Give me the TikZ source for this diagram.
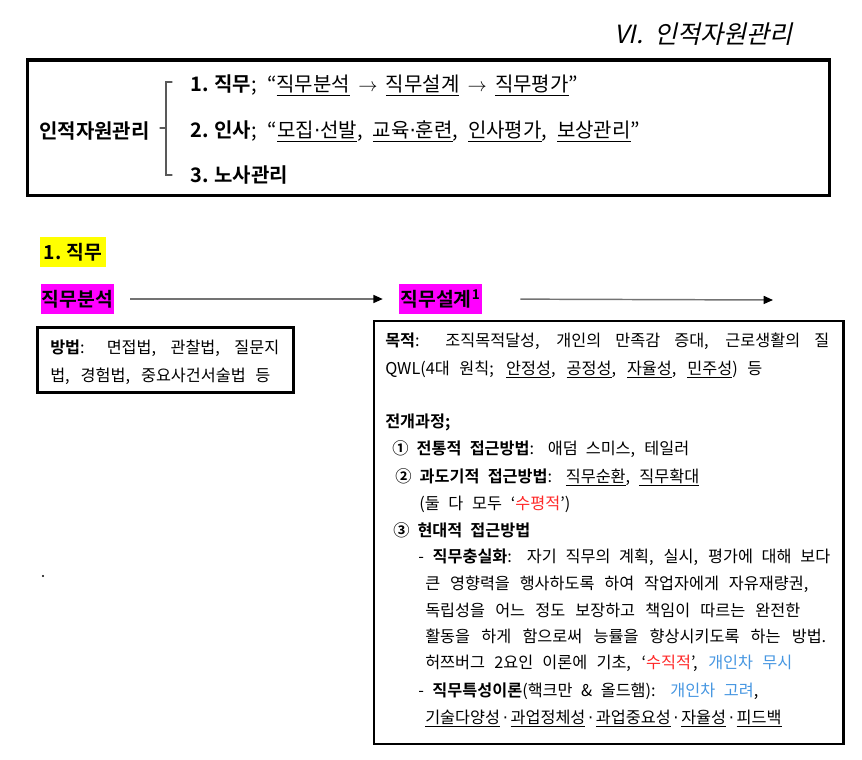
\documentclass[tikz,border=0pt]{standalone}
\usepackage{fontspec}
\setmainfont{Noto Sans CJK KR}[BoldFont={Noto Sans CJK KR Bold}]
\newfontfamily\titlefont[FakeSlant=0.22]{Noto Sans CJK KR}
\newfontfamily\dvfont{DejaVu Sans}
\usetikzlibrary{arrows.meta}
\definecolor{mag}{RGB}{255,0,255}
\definecolor{hly}{RGB}{255,255,0}
\definecolor{redt}{RGB}{255,40,40}
\definecolor{blut}{RGB}{70,150,225}
\newdimen\pxu \pxu=0.75pt
\newcommand\jl[2]{\setbox0\hbox{#2}\ifdim\wd0<#1\pxu \makebox[#1\pxu][s]{#2}\else\box0\fi}
\newcommand\uln[1]{\underline{#1}}
\newcommand\mdot{{\dvfont ·}}
\newcommand\wdot{\kern2pt{\dvfont ·}\kern2pt}
\tikzset{
  body/.style={anchor=base west, inner sep=0pt, font=\fontsize{12.2}{14}\selectfont},
  head/.style={anchor=base west, inner sep=0pt, font=\fontsize{15}{17}\selectfont},
  frame/.style={draw, inner sep=0pt},
  hl/.style={inner sep=0pt, font=\fontsize{14.5}{16}\selectfont\bfseries, minimum height=22.5pt},
  flow/.style={draw=black!55, line width=1.1pt, -{Triangle[length=7pt,width=6pt,color=black]}},
  brk/.style={black!65, line width=0.9pt, line cap=round},
}
\begin{document}
\begin{tikzpicture}[x=0.75pt,y=-0.75pt]
\useasboundingbox (0,0) rectangle (862,759);
% title
\node[anchor=base west, inner sep=0pt, font=\fontsize{18.8}{20}\titlefont] (title) at (614,44) {VI.~ 인적자원관리};
% top box
\node[frame, line width=2.6pt, minimum width=601.5pt, minimum height=101.6pt] (topbox) at (428.5,127.75) {};
\node[head, font=\fontsize{15}{17}\selectfont\bfseries] (hrm) at (39,139) {인적자원관리};
\draw[brk] (172,82) -- (166,82) -- (166,175) -- (172,175);
\draw[brk] (166,128) -- (160,128);
\node[head] (it1) at (190,92) {\jl{388}{\textbf{1.\hspace{0.3em}직무}; “\uln{직무분석} $\to$ \uln{직무설계} $\to$ \uln{직무평가}”}};
\node[head] (it2) at (190,138) {\jl{450}{\textbf{2.\hspace{0.3em}인사}; “\uln{모집\mdot 선발}, \uln{교육\mdot 훈련}, \uln{인사평가}, \uln{보상관리}”}};
\node[head] (it3) at (190,183) {\textbf{3.\hspace{0.3em}노사관리}};
% section
\node[hl, fill=hly, minimum width=49.5pt] (sec) at (73,252) {1.\hspace{0.25em}직무};
\node[hl, fill=mag, minimum width=54.75pt] (ana) at (77.5,299) {직무분석};
\node[hl, fill=mag, minimum width=62.25pt] (dsgn) at (440.5,299) {직무설계\textsuperscript{1}};
\coordinate (nxt) at (773,300);
\draw[flow, shorten <=12pt, shorten >=12pt] (ana.east) -- (dsgn.west);
\draw[flow, shorten <=28.5pt] (dsgn.east) -- (nxt);
% left box
\node[frame, line width=2pt, minimum width=192pt, minimum height=48.75pt] (lbox) at (165.5,360) {};
\node[body] (l1) at (50,353) {\jl{229}{\textbf{방법}: 면접법, 관찰법, 질문지}};
\node[body] (l2) at (50,381) {\jl{220}{법, 경험법, 중요사건서술법 등}};
% right box
\node[frame, line width=2pt, minimum width=352.1pt, minimum height=317.25pt] (rbox) at (608.75,532.5) {};
\node[body] (r1) at (385,346) {\jl{444}{\textbf{목적}: 조직목적달성, 개인의 만족감 증대, 근로생활의 질}};
\node[body] (r2) at (385,374) {\jl{377}{QWL(4대 원칙; \uln{안정성}, \uln{공정성}, \uln{자율성}, \uln{민주성}) 등}};
\node[body] (r3) at (385,427) {\textbf{전개과정;}};
\node[body] (r4) at (392,454) {\jl{297}{\textbf{① 전통적 접근방법}: 애덤 스미스, 테일러}};
\node[body] (r5) at (395,482) {\jl{304}{\textbf{② 과도기적 접근방법}: \uln{직무순환}, \uln{직무확대}}};
\node[body] (r6) at (419,509) {\jl{151}{(둘 다 모두 ‘\textcolor{redt}{수평적}’)}};
\node[body] (r7) at (393,536) {\jl{137}{\textbf{③ 현대적 접근방법}}};
\node[body] (r8) at (418,562) {\jl{412}{- \textbf{직무충실화}: 자기 직무의 계획, 실시, 평가에 대해 보다}};
\node[body] (r9) at (425,589) {\jl{383}{큰 영향력을 행사하도록 하여 작업자에게 자유재량권,}};
\node[body] (r10) at (425,616) {\jl{375}{독립성을 어느 정도 보장하고 책임이 따르는 완전한}};
\node[body] (r11) at (425,642) {\jl{401}{활동을 하게 함으로써 능률을 향상시키도록 하는 방법.}};
\node[body] (r12) at (425,668) {\jl{367}{허쯔버그 2요인 이론에 기초, ‘\textcolor{redt}{수직적}’, \textcolor{blut}{개인차 무시}}};
\node[body] (r13) at (418,696) {\jl{340}{- \textbf{직무특성이론}(핵크만 \& 올드햄): \textcolor{blut}{개인차 고려},}};
\node[body] (r14) at (425,723) {\uln{기술다양성}\wdot\uln{과업정체성}\wdot\uln{과업중요성}\wdot\uln{자율성}\wdot\uln{피드백}};
% stray dot
\node[circle, fill=black, inner sep=0pt, minimum size=1.6pt] (dot) at (43,576) {};
\end{tikzpicture}
\end{document}
